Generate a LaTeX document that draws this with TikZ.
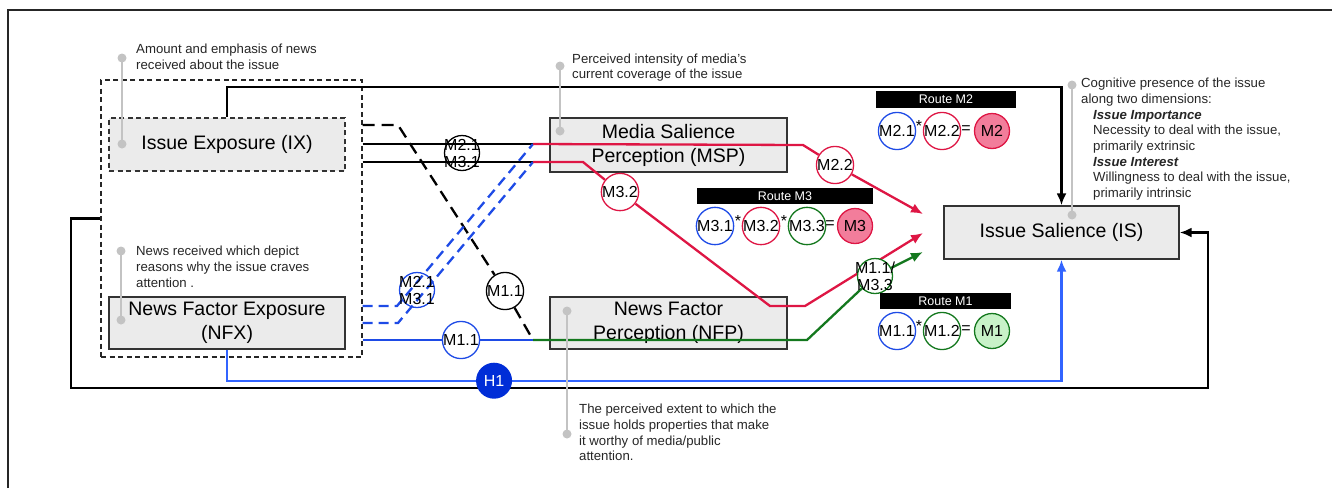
\documentclass[tikz,border=0pt]{standalone}
\usepackage{fontspec}
\setmainfont{Liberation Sans}
\usepackage{xcolor}
\usetikzlibrary{arrows.meta,positioning}

\definecolor{boxgray}{RGB}{235,235,235}
\definecolor{anngray}{RGB}{195,195,195}
\definecolor{mred}{RGB}{222,22,68}
\definecolor{mblue}{RGB}{30,75,230}
\definecolor{hblue}{RGB}{50,100,255}
\definecolor{hfill}{RGB}{0,45,215}
\definecolor{mgreen}{RGB}{20,120,30}
\definecolor{pinkfill}{RGB}{242,125,155}
\definecolor{mintfill}{RGB}{200,242,200}

\pgfdeclarelayer{boxes}
\pgfdeclarelayer{wires}
\pgfsetlayers{boxes,wires,main}

\begin{document}
\begin{tikzpicture}[
    x=1pt, y=-1pt,
    box/.style={draw=black!80, fill=boxgray, line width=1.4pt, minimum width=236pt, minimum height=53pt, align=center, inner sep=0pt, font=\fontsize{19.5}{24}\selectfont},
    grpbox/.style={draw=black!85, line width=1.4pt, dash pattern=on 5pt off 3.5pt, minimum width=261pt, minimum height=277pt, inner sep=0pt},
    note/.style={anchor=north west, inner sep=0pt, align=left, text=black!85, font=\fontsize{13.2}{15.7}\selectfont},
    dot/.style={circle, fill=anngray, minimum size=9pt, inner sep=0pt},
    annline/.style={draw=anngray, line width=1.3pt},
    mcirc/.style={circle, draw, line width=1.3pt, minimum size=35pt, inner sep=0pt, font=\fontsize{16}{17}\selectfont},
    ctext/.style={inner sep=0pt, align=center, font=\fontsize{16}{17}\selectfont},
    hcirc/.style={circle, fill=hfill, text=white, minimum size=36pt, inner sep=0pt, font=\fontsize{16}{16}\selectfont},
    routebar/.style={fill=black, text=white, minimum height=16.5pt, inner sep=0pt, font=\fontsize{12.5}{12.5}\selectfont},
    op/.style={inner sep=0pt, font=\fontsize{16}{16}\selectfont},
    wire/.style={line width=2.3pt},
    arr/.style={wire, -{Latex[length=12pt,width=10pt]}}
]
    \useasboundingbox (0,0) rectangle (1332,488);
    \draw[line width=2pt, black!85] (8,488) -- (8,10) -- (1332,10);

    % Boxes
    \begin{pgfonlayer}{boxes}
    \node[grpbox] (grp) at (231.5,218.5) {};
    \node[box, dash pattern=on 5pt off 3.5pt] (ix) at (227,144.5) {Issue Exposure (IX)};
    \node[box, minimum height=52pt] (nfx) at (227,323) {News Factor Exposure\\(NFX)};
    \node[box, minimum width=237pt, minimum height=54pt] (msp) at (668.5,145) {Media Salience\\Perception (MSP)};
    \node[box, minimum width=237pt, minimum height=52pt] (nfp) at (668.5,323) {News Factor\\Perception (NFP)};
    \node[box, minimum width=235pt] (is) at (1061.5,232.5) {Issue Salience (IS)};
    \end{pgfonlayer}

    % Annotations
    \node[dot] (dIXa) at (122,58) {};
    \node[dot] (dIXb) at (122,144) {};
    \draw[annline] (dIXa.center) -- (dIXb.center);
    \node[note] (nIX) at (136,44) {Amount and emphasis of news\\received about the issue};

    \node[dot] (dNFXa) at (121,251) {};
    \node[dot] (dNFXb) at (121,320) {};
    \draw[annline] (dNFXa.center) -- (dNFXb.center);
    \node[note] (nNFX) at (136,246) {News received which depict\\reasons why the issue craves\\attention .};

    \node[dot] (dMSPa) at (560,66) {};
    \node[dot] (dMSPb) at (560,131) {};
    \draw[annline] (dMSPa.center) -- (dMSPb.center);
    \node[note, font=\fontsize{13.2}{14.5}\selectfont] (nMSP) at (572,54) {Perceived intensity of media's\\current coverage of the issue};

    \node[dot] (dNFPa) at (567,311) {};
    \node[dot] (dNFPb) at (567,434) {};
    \draw[annline] (dNFPa.center) -- (dNFPb.center);
    \node[note] (nNFP) at (579,404) {The perceived extent to which the\\issue holds properties that make\\it worthy of media/public\\attention.};

    \node[dot] (dISa) at (1072,85) {};
    \node[dot] (dISb) at (1072,215) {};
    \draw[annline] (dISa.center) -- (dISb.center);
    \node[note] (nIS) at (1081,78) {Cognitive presence of the issue\\along two dimensions:\\
        \hspace*{12pt}\textbf{\textit{Issue Importance}}\\
        \hspace*{12pt}Necessity to deal with the issue,\\
        \hspace*{12pt}primarily extrinsic\\
        \hspace*{12pt}\textbf{\textit{Issue Interest}}\\
        \hspace*{12pt}Willingness to deal with the issue,\\
        \hspace*{12pt}primarily intrinsic};

    % Path labels
    \node[mcirc] (bm) at (462,153) {};
    \node[ctext] (bmt) at (bm) {M2.1\\M3.1};
    \node[mcirc, draw=mblue] (bbm) at (417,290) {};
    \node[ctext] (bbmt) at (bbm) {M2.1\\M3.1};
    \node[mcirc, fill=white] (km11) at (505,291) {M1.1};
    \node[mcirc, draw=mblue, fill=white] (bm11) at (461,340) {M1.1};
    \node[mcirc, draw=mred, fill=white] (m22) at (835,165) {M2.2};
    \node[mcirc, draw=mred, fill=white] (m32) at (620,192) {M3.2};
    \node[mcirc, draw=mgreen, fill=white] (m13) at (875,276) {};
    \node[ctext] (m13t) at (m13) {M1.1/\\M3.3};

    % Routes
    \node[routebar, minimum width=140pt] (rm2) at (946,99.5) {Route M2};
    \node[mcirc, draw=mblue] (r21) at (897,131) {M2.1};
    \node[op] (r2s) at (919,126) {*};
    \node[mcirc, draw=mred] (r22) at (942,131) {M2.2};
    \node[op] (r2e) at (966,130) {=};
    \node[mcirc, draw=mred, fill=pinkfill] (r2) at (992,131) {M2};

    \node[routebar, minimum width=176pt] (rm3) at (785,196) {Route M3};
    \node[mcirc, draw=mblue] (r31) at (715,226) {M3.1};
    \node[op] (r3s1) at (738,221) {*};
    \node[mcirc, draw=mred] (r32) at (761,226) {M3.2};
    \node[op] (r3s2) at (784,221) {*};
    \node[mcirc, draw=mgreen] (r33) at (807,226) {M3.3};
    \node[op] (r3e) at (830,225) {=};
    \node[mcirc, draw=mred, fill=pinkfill] (r3) at (855,226) {M3};

    \node[routebar, minimum width=131pt] (rm1) at (945.5,301) {Route M1};
    \node[mcirc, draw=mblue] (r11) at (897,331) {M1.1};
    \node[op] (r1s) at (919,326) {*};
    \node[mcirc, draw=mgreen] (r12) at (942,331) {M1.2};
    \node[op] (r1e) at (966,330) {=};
    \node[mcirc, draw=mgreen, fill=mintfill] (r1) at (992,331) {M1};

    % Junctions and arrow ends
    \coordinate (jA) at (533,144);
    \coordinate (jB) at (533,162);
    \coordinate (jC) at (533,340);
    \coordinate (kD) at (398,125);
    \coordinate (bD1) at (397,306);
    \coordinate (bD2) at (398,323);
    \coordinate (tipA) at (923,214);
    \coordinate (tipB) at (923,233);
    \coordinate (tipC) at (923,252);

    \begin{pgfonlayer}{wires}
    % Exposure to perception
    \draw[wire] (grp.east |- jA) -- (jA);
    \draw[wire] (grp.east |- jB) -- (jB);
    \draw[wire, dash pattern=on 12pt off 7pt] (grp.east |- kD) -- (kD) -- (km11) -- (jC);
    \draw[wire, mblue, dash pattern=on 10pt off 6pt] (grp.east |- bD1) -- (bD1) -- (jA);
    \draw[wire, mblue, dash pattern=on 10pt off 6pt] (grp.east |- bD2) -- (bD2) -- (jB);
    \draw[wire, mblue] (grp.east |- jC) -- (jC);

    % Perception to salience
    \draw[arr, mred] (jA) -- ++(270,1) -- (m22) -- (tipA);
    \draw[arr, mred] (jB) -- ++(50,0) -- (m32) -- (770,306) -- ++(35,0) -- (tipB);
    \draw[arr, mgreen] (jC) -- ++(274,0) -- (m13) -- (tipC);

    % Direct paths
    \draw[arr] (ix.north) -- ++(0,-30) -| (is.north);
    \draw[arr] (grp.west) -| ++(-29,169.5) -| ++(1137,-155.5) -- (is.east);
    \draw[arr, hblue] (nfx.south) -- ++(0,31) -| node[hcirc, pos=0.16] (h1) {H1} (is.south);
    \end{pgfonlayer}
\end{tikzpicture}
\end{document}
